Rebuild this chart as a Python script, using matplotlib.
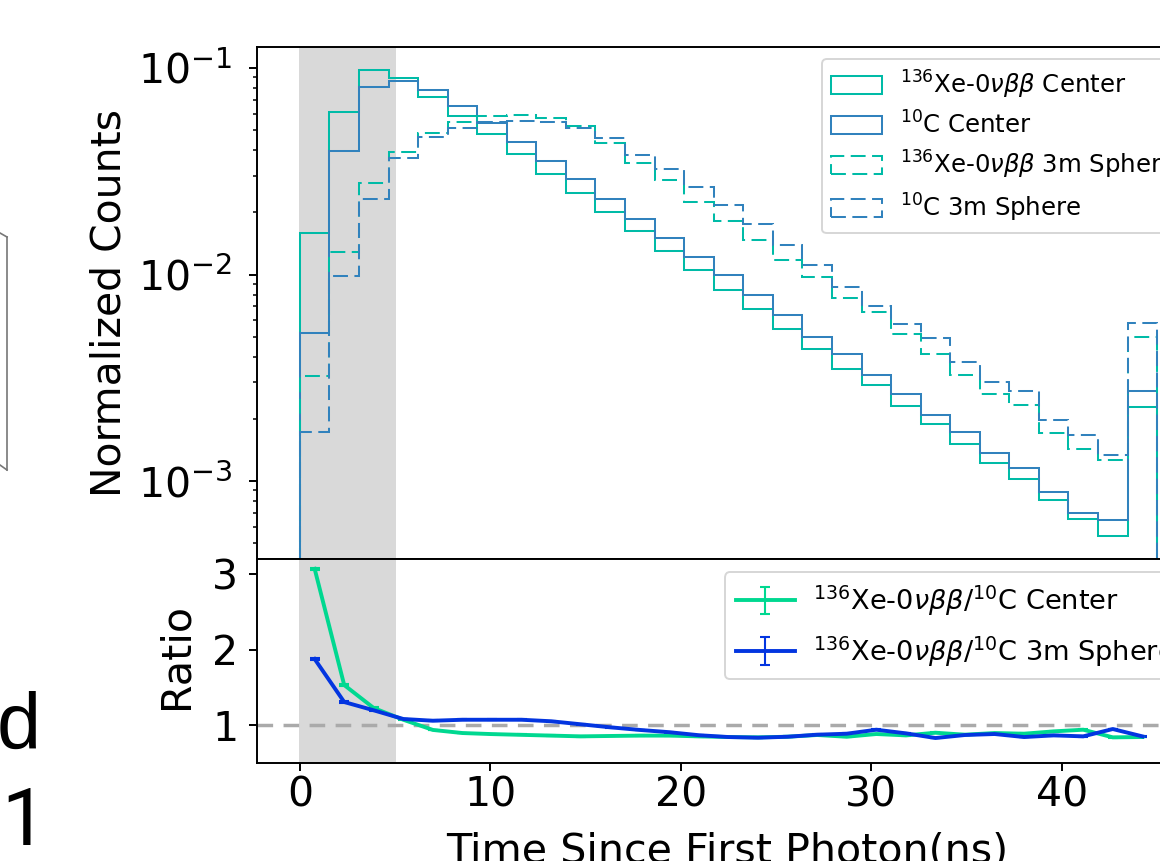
import numpy as np
import matplotlib
matplotlib.use('Agg')
import matplotlib.pyplot as plt
from matplotlib.lines import Line2D

# Bin edges shared by all histograms (ns)
edges = np.linspace(0, 45, 30)
centers = (edges[:-1] + edges[1:]) / 2

xe_center = [0.01589, 0.0610, 0.0978, 0.0891, 0.0726, 0.0586, 0.0477, 0.0382, 0.0308, 0.0247,
             0.0200, 0.01619, 0.0130, 0.01048, 0.00841, 0.00678, 0.00543, 0.00437, 0.00348, 0.00291,
             0.00231, 0.00188, 0.00151, 0.00122, 0.00102, 0.000809, 0.000657, 0.000543, 0.00229]
c_center = [0.00519, 0.0398, 0.0812, 0.0865, 0.0782, 0.0657, 0.0540, 0.0439, 0.0356, 0.0289,
            0.0233, 0.0186, 0.0151, 0.0122, 0.00994, 0.00798, 0.00634, 0.00500, 0.00411, 0.00327,
            0.00263, 0.00208, 0.00173, 0.00136, 0.00115, 0.000885, 0.000702, 0.000645, 0.00272]
xe_sphere = [0.00324, 0.0128, 0.0276, 0.0393, 0.0484, 0.0550, 0.0586, 0.0590, 0.0574, 0.0524,
             0.0435, 0.0348, 0.0287, 0.0224, 0.0182, 0.0147, 0.0118, 0.00976, 0.00767, 0.00656,
             0.00515, 0.00413, 0.00327, 0.00265, 0.00233, 0.00171, 0.00143, 0.00126, 0.00496]
c_sphere = [0.00173, 0.00983, 0.0231, 0.0365, 0.0462, 0.0514, 0.0550, 0.0554, 0.0550, 0.0511,
            0.0457, 0.0380, 0.0324, 0.0265, 0.0217, 0.0176, 0.0139, 0.0111, 0.00873, 0.00704,
            0.00578, 0.00494, 0.00378, 0.00301, 0.00274, 0.00197, 0.00167, 0.00134, 0.00580]

ratio_center = [3.07, 1.53, 1.225, 1.07, 0.935, 0.894, 0.88, 0.87, 0.86, 0.85,
                0.855, 0.86, 0.86, 0.85, 0.841, 0.837, 0.845, 0.868, 0.845, 0.881,
                0.863, 0.898, 0.872, 0.894, 0.885, 0.916, 0.938, 0.837, 0.841]
ratio_sphere = [1.875, 1.305, 1.195, 1.08, 1.057, 1.07, 1.07, 1.07, 1.05, 1.01,
                0.97, 0.935, 0.905, 0.865, 0.841, 0.832, 0.845, 0.872, 0.885, 0.938,
                0.890, 0.828, 0.868, 0.881, 0.841, 0.863, 0.850, 0.947, 0.850]
ratio_err = [0.012, 0.01, 0.008, 0.006, 0.005, 0.005, 0.005, 0.005, 0.005, 0.005,
             0.005, 0.005, 0.005, 0.005, 0.005, 0.005, 0.005, 0.005, 0.005, 0.005,
             0.005, 0.005, 0.005, 0.005, 0.005, 0.005, 0.005, 0.005, 0.005]

teal = '#00bba7'
blue = '#3182bd'
ratio_green = '#00d890'
ratio_blue = '#0335e0'
dash = (0, (7.4, 3.2))

W, H = 1160, 861
fig = plt.figure(figsize=(W / 100, H / 100), dpi=100)

# Axes run past the right edge of the picture, as in the cropped original
ax = fig.add_axes([257 / W, 1 - 559 / H, 943 / W, 512 / H])
ax2 = fig.add_axes([257 / W, 1 - 763 / H, 943 / W, 204 / H], sharex=ax)

xe_name = r'$^{136}$Xe-0$\nu\beta\beta$'
c_name = r'$^{10}$C'
ax.hist(centers, bins=edges, weights=xe_center, histtype='step', color=teal, lw=1.45, label=xe_name + ' Center')
ax.hist(centers, bins=edges, weights=c_center, histtype='step', color=blue, lw=1.45, label=c_name + ' Center')
ax.hist(centers, bins=edges, weights=xe_sphere, histtype='step', color=teal, lw=1.45, ls=dash, label=xe_name + ' 3m Sphere')
ax.hist(centers, bins=edges, weights=c_sphere, histtype='step', color=blue, lw=1.45, ls=dash, label=c_name + ' 3m Sphere')
ax.axvspan(-0.03, 5.05, color='k', alpha=0.15, lw=0)
ax.set_yscale('log')
ax.set_xlim(-2.25, 47.25)
ax.set_ylim(4.19e-4, 0.1264)
ax.set_ylabel('Normalized Counts', fontsize=29.4)
ax.yaxis.set_label_coords(130 / W, 1 - 303 / H, transform=fig.transFigure)
ax.tick_params(axis='both', which='major', labelsize=29.5, width=1.4, length=5.5)
ax.tick_params(axis='y', which='major', pad=12.5)
ax.tick_params(axis='both', which='minor', width=1.1, length=3.2)
ax.tick_params(axis='x', which='both', bottom=False, labelbottom=False)
for s in ax.spines.values():
    s.set_linewidth(1.4)

leg = ax.legend(loc='upper left', bbox_to_anchor=(821.7 / W, 1 - 59.3 / H), bbox_transform=fig.transFigure,
                borderaxespad=0, fontsize=17.6, handlelength=2.05, handleheight=0.74, labelspacing=0.42,
                handletextpad=0.75)
leg.get_frame().set_linewidth(1.4)

ax2.axvspan(-0.03, 5.05, color='k', alpha=0.15, lw=0)
ax2.axhline(1, color='#aaaaaa', lw=2.5, ls=(0, (4.5, 3)))
ax2.errorbar(centers, ratio_center, yerr=ratio_err, color=ratio_green, lw=2.8, elinewidth=1.5, capsize=3.6,
             capthick=1.5, label=xe_name + '/' + c_name + ' Center')
ax2.errorbar(centers, ratio_sphere, yerr=ratio_err, color=ratio_blue, lw=2.8, elinewidth=1.5, capsize=3.6,
             capthick=1.5, label=xe_name + '/' + c_name + ' 3m Sphere')
ax2.set_ylim(0.497, 3.2)
ax2.set_yticks([1, 2, 3])
ax2.set_xticks([0, 10, 20, 30, 40])
ax2.set_ylabel('Ratio', fontsize=29.7)
ax2.yaxis.set_label_coords(197 / W, 1 - 656 / H, transform=fig.transFigure)
ax2.set_xlabel('Time Since First Photon(ns)', fontsize=29.7)
ax2.xaxis.set_label_coords(727 / W, 1 - 831 / H, transform=fig.transFigure)
ax2.tick_params(axis='both', labelsize=29.5, width=1.4, length=5.5)
ax2.tick_params(axis='y', pad=8)
for s in ax2.spines.values():
    s.set_linewidth(1.4)

leg2 = ax2.legend(loc='upper left', bbox_to_anchor=(725 / W, 1 - 572.3 / H), bbox_transform=fig.transFigure,
                  borderaxespad=0, fontsize=19.6, handlelength=2.17, labelspacing=0.6, handletextpad=0.66)
leg2.get_frame().set_linewidth(1.4)

# Pieces of the neighbouring panel that the crop left on the left edge
fig.text(41 / W, 1 - 749 / H, 'd', fontfamily=['Liberation Sans'], fontsize=57, ha='right', va='baseline')
fig.text(46 / W, 1 - 845 / H, '1', fontfamily=['Roboto'], fontsize=57.7, ha='right', va='baseline')
box_style = dict(color='#777777', lw=1.2, transform=fig.transFigure)
fig.add_artist(Line2D([7 / W, 7 / W], [1 - 237 / H, 1 - 470 / H], **box_style))
fig.add_artist(Line2D([0, 7 / W], [1 - 233 / H, 1 - 237 / H], **box_style))
fig.add_artist(Line2D([0, 7 / W], [1 - 465 / H, 1 - 470 / H], **box_style))

fig.savefig('out.png', dpi=100)
